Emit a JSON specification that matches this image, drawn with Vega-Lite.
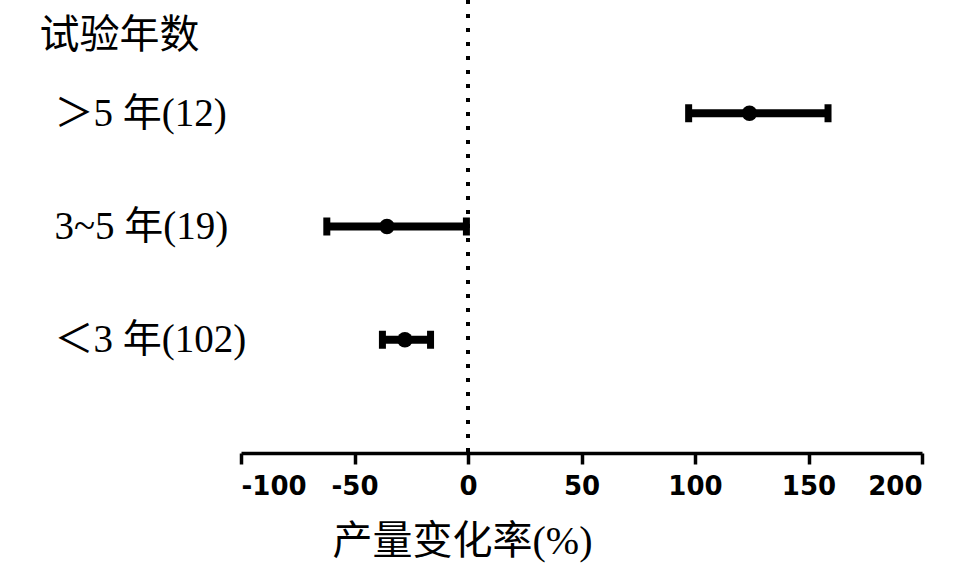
{
  "$schema": "https://vega.github.io/schema/vega-lite/v6.json",
  "width": 681,
  "height": 453,
  "autosize": {"type": "none"},
  "padding": {"left": 241, "top": 0, "right": 46, "bottom": 111},
  "background": "white",
  "config": {"view": {"stroke": null}},
  "data": {
    "values": [
      {"group": "＞5 年(12)", "mean": 124.0, "low": 97.2, "high": 158.6},
      {"group": "3~5 年(19)", "mean": -35.7, "low": -62.2, "high": -0.7},
      {"group": "＜3 年(102)", "mean": -27.8, "low": -37.7, "high": -16.5}
    ]
  },
  "encoding": {
    "y": {
      "field": "group",
      "type": "nominal",
      "sort": null,
      "scale": {"type": "point", "padding": 1},
      "axis": {
        "title": "试验年数",
        "titleAngle": 0,
        "titleAlign": "left",
        "titleBaseline": "middle",
        "titleX": -202,
        "titleY": 35,
        "titleFont": "Liberation Serif, Noto Sans CJK SC",
        "titleFontSize": 40,
        "titleFontWeight": "normal",
        "titleColor": "black",
        "domain": false,
        "ticks": false,
        "tickSize": 0,
        "labelAlign": "left",
        "labelBaseline": "middle",
        "labelPadding": 187,
        "labelLimit": 0,
        "labelFont": "Liberation Serif, Noto Sans CJK SC",
        "labelFontSize": 39,
        "labelColor": "black",
        "grid": false
      }
    }
  },
  "layer": [
    {
      "mark": {"type": "rule", "color": "black", "strokeWidth": 4, "strokeDash": [4, 10]},
      "encoding": {"x": {"datum": 0, "type": "quantitative"}, "y": null}
    },
    {
      "mark": {"type": "rule", "color": "black", "strokeWidth": 8},
      "encoding": {
        "x": {
          "field": "low",
          "type": "quantitative",
          "scale": {"domain": [-100, 200], "nice": false},
          "axis": {
            "title": "产量变化率(%)",
            "values": [-100, -50, 0, 50, 100, 150, 200],
            "labelExpr": "'' + datum.value",
            "grid": false,
            "domainColor": "black",
            "domainWidth": 3.5,
            "tickColor": "black",
            "tickWidth": 3.5,
            "tickSize": 11,
            "labelFont": "DejaVu Sans",
            "labelFontWeight": "bold",
            "labelFontSize": 26,
            "labelColor": "black",
            "labelPadding": 9,
            "titleFont": "Liberation Serif, Noto Sans CJK SC",
            "titleFontSize": 40,
            "titleFontWeight": "normal",
            "titleColor": "black",
            "titleX": 221,
            "titleY": 88,
            "titleAlign": "center",
            "titleBaseline": "middle",
            "titleAnchor": null
          }
        },
        "x2": {"field": "high"}
      }
    },
    {
      "mark": {"type": "tick", "color": "black", "orient": "vertical", "thickness": 7, "size": 18, "opacity": 1},
      "encoding": {"x": {"field": "low", "type": "quantitative"}}
    },
    {
      "mark": {"type": "tick", "color": "black", "orient": "vertical", "thickness": 7, "size": 18, "opacity": 1},
      "encoding": {"x": {"field": "high", "type": "quantitative"}}
    },
    {
      "mark": {"type": "circle", "color": "black", "size": 240, "opacity": 1},
      "encoding": {"x": {"field": "mean", "type": "quantitative"}}
    }
  ]
}
